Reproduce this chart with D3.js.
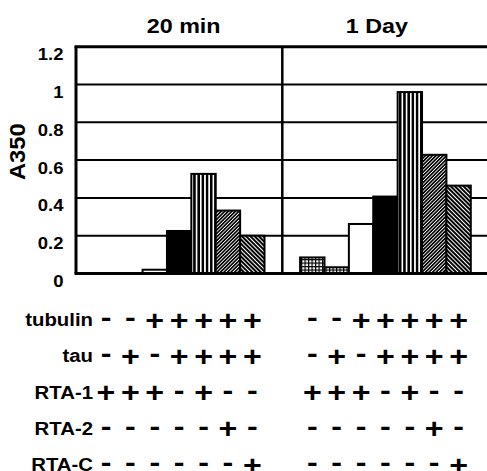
<!DOCTYPE html>
<html>
<head>
<meta charset="utf-8">
<script src="https://cdn.jsdelivr.net/npm/d3@7"></script>
<style>
  body { margin: 0; background: #fff; }
  svg { display: block; }
  text { font-family: "Liberation Sans", Arial, sans-serif; font-weight: bold; fill: #000; }
</style>
</head>
<body>
<svg id="chart"></svg>
<script>
// data
const panels = ["20 min", "1 Day"];
const values20min = [0, 0, 0.02, 0.225, 0.527, 0.333, 0.2];
const values1day = [0.085, 0.033, 0.262, 0.407, 0.96, 0.628, 0.465];
const yTicks = [0, 0.2, 0.4, 0.6, 0.8, 1, 1.2];

// conditions table under the bars (same for both panels)
const conditions = ["tubulin", "tau", "RTA-1", "RTA-2", "RTA-C"];
const tubulinSigns = ["-", "-", "+", "+", "+", "+", "+"];
const tauSigns = ["-", "+", "-", "+", "+", "+", "+"];
const rta1Signs = ["+", "+", "+", "-", "+", "-", "-"];
const rta2Signs = ["-", "-", "-", "-", "-", "+", "-"];
const rtacSigns = ["-", "-", "-", "-", "-", "-", "+"];
const signRows = [tubulinSigns, tauSigns, rta1Signs, rta2Signs, rtacSigns];

const width = 487;
const height = 471;

const svg = d3.select("#chart").attr("width", width).attr("height", height);
const defs = svg.append("defs");

// fill patterns for the bars
function stripePattern(id, period, lineWidth, angle) {
    const p = defs.append("pattern")
        .attr("id", id)
        .attr("patternUnits", "userSpaceOnUse")
        .attr("width", period)
        .attr("height", period);
    if (angle) p.attr("patternTransform", `rotate(${angle})`);
    p.append("rect").attr("width", period).attr("height", period).attr("fill", "#fff");
    p.append("rect").attr("width", lineWidth).attr("height", period).attr("fill", "#000")
        .attr("shape-rendering", "crispEdges");
}
stripePattern("vert", 4.2, 2.2, 0);
stripePattern("diag", 2.5, 1.3, 45);
stripePattern("back", 3, 1.6, -45);

const cross = defs.append("pattern")
    .attr("id", "cross")
    .attr("patternUnits", "userSpaceOnUse")
    .attr("width", 3.5)
    .attr("height", 3.5);
cross.append("rect").attr("width", 3.5).attr("height", 3.5).attr("fill", "#fff");
cross.append("rect").attr("width", 1.2).attr("height", 3.5).attr("fill", "#000");
cross.append("rect").attr("width", 3.5).attr("height", 1.2).attr("fill", "#000");

const barFills = ["url(#cross)", "url(#cross)", "#fff", "#000", "url(#vert)", "url(#diag)", "url(#back)"];

// plot frame
const plotLeft = 76;
const divider = 282.3;
const plotRight = 488.6;
const panelRanges = [[plotLeft, divider], [divider, plotRight]];
const titleShift = [4.5, -8.5];

const y = d3.scaleLinear().domain([0, 1.2]).range([273.5, 46.7]);

// gridlines behind bars
svg.selectAll("line.grid")
    .data(yTicks.filter(d => d > 0 && d < 1.2))
    .join("line")
    .attr("class", "grid")
    .attr("x1", plotLeft).attr("x2", width)
    .attr("y1", d => y(d)).attr("y2", d => y(d))
    .attr("stroke", "#000")
    .attr("stroke-width", 2);

// y tick labels sit a little below their line
svg.selectAll("text.ytick")
    .data(yTicks)
    .join("text")
    .attr("class", "ytick")
    .attr("text-anchor", "end")
    .attr("font-size", 16.5)
    .attr("transform", d => `translate(63.5,${y(d) + 13.5}) scale(1.12,1)`)
    .text(d => String(+d.toFixed(1)));

svg.append("text")
    .attr("text-anchor", "middle")
    .attr("font-size", 22)
    .attr("transform", "translate(25,151.7) rotate(-90) scale(1.08,1)")
    .text("A350");

const rowY = d3.scalePoint().domain(conditions).range([319.5, 464.5]);

panels.forEach((name, pi) => {
    const values = pi === 0 ? values20min : values1day;
    const x = d3.scaleBand()
        .domain(d3.range(values.length))
        .range(panelRanges[pi])
        .paddingInner(0)
        .paddingOuter(0.73);

    const bars = values.map((v, i) => ({ i, v })).filter(d => d.v > 0);

    svg.append("g")
        .selectAll("rect")
        .data(bars)
        .join("rect")
        .attr("x", d => x(d.i))
        .attr("y", d => y(d.v))
        .attr("width", x.bandwidth())
        .attr("height", d => y(0) - y(d.v))
        .attr("fill", d => barFills[d.i])
        .attr("stroke", "#000")
        .attr("stroke-width", 2);

    const mid = (x(0) + x(values.length - 1) + x.bandwidth()) / 2;
    svg.append("text")
        .attr("text-anchor", "middle")
        .attr("font-size", 21)
        .attr("transform", `translate(${mid + titleShift[pi]},33) scale(1.11,1)`)
        .text(name);

    // + / - table
    signRows.forEach((signs, ri) => {
        svg.append("g")
            .selectAll("text")
            .data(signs)
            .join("text")
            .attr("text-anchor", "middle")
            .attr("font-size", 28)
            .attr("transform", (s, i) =>
                `translate(${x(i) + x.bandwidth() / 2},${rowY(conditions[ri]) + (s === "+" ? 10 : 7.5)}) scale(1.15,1)`)
            .text(s => s);
    });
});

// row labels
svg.selectAll("text.cond")
    .data(conditions)
    .join("text")
    .attr("class", "cond")
    .attr("text-anchor", "end")
    .attr("font-size", 18.5)
    .attr("transform", d => `translate(93,${rowY(d) + 6.5}) scale(1.1,1)`)
    .text(d => d);

// frame lines on top
svg.append("line")
    .attr("x1", plotLeft - 1.5).attr("x2", width)
    .attr("y1", y(1.2)).attr("y2", y(1.2))
    .attr("stroke", "#000").attr("stroke-width", 3);
svg.append("line")
    .attr("x1", plotLeft - 1.5).attr("x2", width)
    .attr("y1", y(0)).attr("y2", y(0))
    .attr("stroke", "#000").attr("stroke-width", 3);
svg.append("line")
    .attr("x1", plotLeft).attr("x2", plotLeft)
    .attr("y1", y(1.2)).attr("y2", y(0))
    .attr("stroke", "#000").attr("stroke-width", 3);
svg.append("line")
    .attr("x1", divider).attr("x2", divider)
    .attr("y1", y(1.2)).attr("y2", y(0))
    .attr("stroke", "#000").attr("stroke-width", 2.5);
</script>
</body>
</html>
